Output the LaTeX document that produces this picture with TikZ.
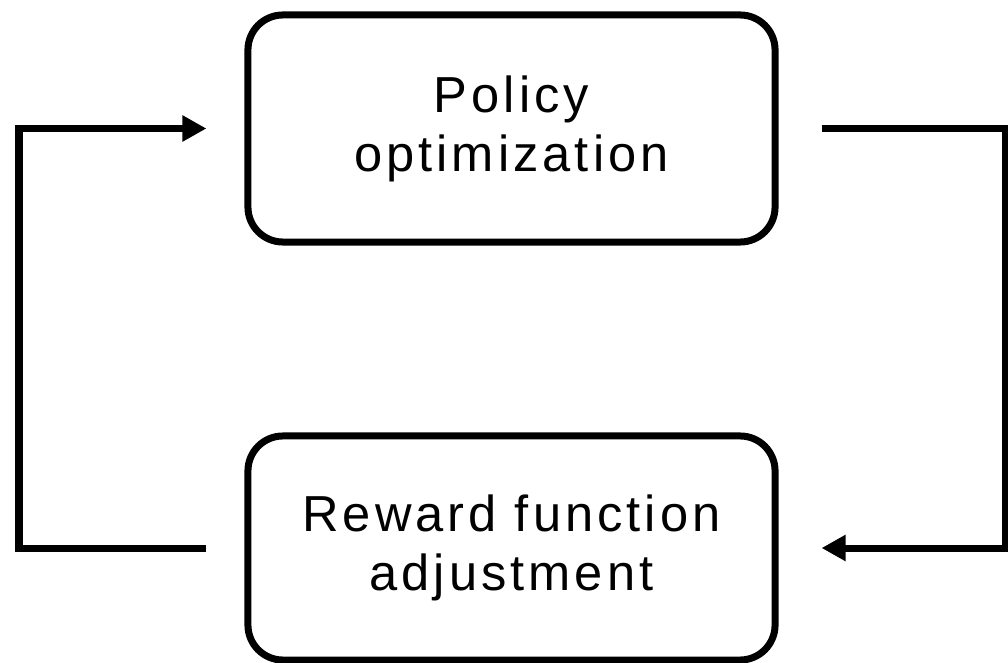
\documentclass[tikz,border=0pt]{standalone}
\usepackage{fontspec}
\setmainfont{Liberation Sans}[LetterSpace=8]
\usetikzlibrary{arrows.meta,calc}
\begin{document}
\begin{tikzpicture}[x=0.025cm,y=-0.025cm]
            \tikzset{
                stage/.style={draw, line width=0.175cm, rounded corners=0.875cm, minimum width=13.175cm, align=center, font=\fontsize{36}{42}\selectfont},
                loop/.style={line width=0.175cm, -{Triangle[length=0.6cm,width=0.62cm]}}
            }
            \useasboundingbox (0,0) rectangle (1008,663);
            \node[stage, minimum height=5.675cm] (policy) at (511.5,128.5) {Policy\\optimization};
            \node[stage, minimum height=5.6cm] (reward) at (511.5,548) {Reward function\\adjustment};
            % feedback paths
            \coordinate (rout) at ($(reward.west)+(-38,0)$);
            \coordinate (pin) at ($(policy.west)+(-38,0)$);
            \coordinate (pout) at ($(policy.east)+(43,0)$);
            \coordinate (rin) at ($(reward.east)+(43,0)$);
            \draw[loop] (rout) -- (19,548) |- (pin);
            \draw[loop] (pout) -- (1005,128.5) |- (rin);
        \end{tikzpicture}
\end{document}
